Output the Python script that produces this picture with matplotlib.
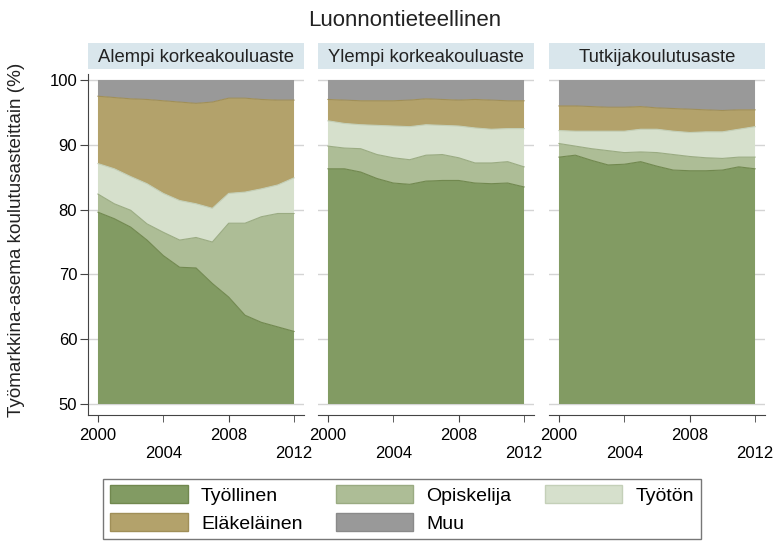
import matplotlib
matplotlib.use("Agg")
import matplotlib.pyplot as plt
from matplotlib.patches import Patch

plt.rcParams['font.family'] = ['Liberation Sans', 'DejaVu Sans']

years = list(range(2000, 2013))
panels = ['Alempi korkeakouluaste', 'Ylempi korkeakouluaste', 'Tutkijakoulutusaste']
categories = ['Työllinen', 'Opiskelija', 'Työtön', 'Eläkeläinen', 'Muu']
colors = ['#829b63', '#adbd96', '#d6e0cc', '#b3a26b', '#999999']
edges = ['#71884f', '#9aab82', '#c4d0b8', '#a08f58', '#8a8a8a']

# cumulative tops of each category (%), per panel
alempi = {
    'Työllinen': [79.6, 78.6, 77.3, 75.3, 72.9, 71.1, 71.0, 68.6, 66.5, 63.7, 62.6, 61.9, 61.2],
    'Opiskelija': [82.4, 80.9, 79.9, 77.8, 76.5, 75.3, 75.7, 75.0, 77.9, 77.9, 78.9, 79.4, 79.4],
    'Työtön': [87.1, 86.3, 85.1, 84.0, 82.5, 81.4, 80.9, 80.2, 82.5, 82.7, 83.2, 83.8, 84.9],
    'Eläkeläinen': [97.5, 97.3, 97.1, 97.0, 96.8, 96.6, 96.4, 96.6, 97.2, 97.2, 97.0, 96.9, 96.9],
    'Muu': [100] * 13,
}
ylempi = {
    'Työllinen': [86.3, 86.3, 85.8, 84.8, 84.1, 83.9, 84.4, 84.5, 84.5, 84.1, 84.0, 84.1, 83.5],
    'Opiskelija': [89.8, 89.5, 89.4, 88.5, 88.0, 87.7, 88.4, 88.5, 88.0, 87.2, 87.2, 87.4, 86.6],
    'Työtön': [93.7, 93.3, 93.1, 93.0, 92.9, 92.8, 93.1, 93.0, 92.9, 92.6, 92.4, 92.5, 92.5],
    'Eläkeläinen': [97.0, 96.9, 96.8, 96.8, 96.8, 96.9, 97.1, 97.0, 96.9, 97.0, 96.9, 96.8, 96.8],
    'Muu': [100] * 13,
}
tutkija = {
    'Työllinen': [88.1, 88.4, 87.6, 86.9, 87.0, 87.4, 86.7, 86.1, 86.0, 86.0, 86.1, 86.6, 86.3],
    'Opiskelija': [90.2, 89.8, 89.4, 89.1, 88.8, 88.9, 88.8, 88.5, 88.2, 88.0, 87.9, 88.1, 88.1],
    'Työtön': [92.2, 92.1, 92.1, 92.1, 92.1, 92.4, 92.4, 92.1, 91.9, 92.0, 92.0, 92.4, 92.8],
    'Eläkeläinen': [96.0, 96.0, 95.9, 95.8, 95.8, 95.9, 95.7, 95.6, 95.5, 95.4, 95.3, 95.4, 95.4],
    'Muu': [100] * 13,
}
data = [alempi, ylempi, tutkija]

W, H = 776, 542
fig = plt.figure(figsize=(W / 100, H / 100), dpi=100)

lefts = [88, 318, 549]
for i, (name, d) in enumerate(zip(panels, data)):
    ax = fig.add_axes([lefts[i] / W, (H - 415) / H, 216 / W, 341 / H])
    for g in range(50, 101, 10):
        ax.axhline(g, color='#d4d4d4', lw=1, zorder=0)
    base = [50] * len(years)
    for cat, c, e in zip(categories, colors, edges):
        ax.fill_between(years, base, d[cat], facecolor=c, edgecolor='none', zorder=2)
        if cat != 'Muu':
            ax.plot(years, d[cat], color=e, lw=0.8, zorder=3)
        base = d[cat]
    ax.set_xlim(1999.39, 2012.61)
    ax.set_ylim(48.3, 100.93)
    ax.set_facecolor('none')
    for s in ['top', 'right']:
        ax.spines[s].set_visible(False)
    ax.spines['bottom'].set_color('#444444')
    ax.spines['left'].set_color('#444444')
    ax.set_xticks([2000, 2008])
    ax.set_xticks([2004, 2012], minor=True)
    ax.set_xticklabels(['2000', '2008'])
    ax.set_xticklabels(['2004', '2012'], minor=True)
    ax.tick_params(axis='x', which='major', length=5, pad=4.5, labelsize=12, color='#444444')
    ax.tick_params(axis='x', which='minor', length=5, pad=17.5, labelsize=12, color='#444444')
    if i == 0:
        ax.set_yticks(range(50, 101, 10))
        ax.tick_params(axis='y', length=5.8, pad=2, labelsize=12, color='#444444')
    else:
        ax.spines['left'].set_visible(False)
        ax.set_yticks([])

    strip = fig.add_axes([lefts[i] / W, (H - 69) / H, 216 / W, 26 / H])
    strip.set_facecolor('#d9e6ec')
    strip.set_xticks([])
    strip.set_yticks([])
    for s in strip.spines.values():
        s.set_visible(False)
    strip.text(0.5, 0.45, name, ha='center', va='center', fontsize=13.3, color='#222222')

fig.text(405 / W, 1 - 20 / H, 'Luonnontieteellinen', ha='center', va='center', fontsize=16, color='#222222')
fig.text(17 / W, 1 - 240 / H, 'Työmarkkina-asema koulutusasteittain (%)', rotation=90,
         ha='center', va='center', fontsize=13.6, color='#222222')

order = [0, 3, 1, 4, 2]
handles = [Patch(facecolor=colors[k], edgecolor=edges[k], label=categories[k]) for k in order]
leg = fig.legend(handles=handles, ncol=3, loc='center', bbox_to_anchor=(402 / W, 1 - 509 / H),
                 fontsize=14, frameon=True, fancybox=False, edgecolor='#555555',
                 handlelength=4.0, handleheight=1.05, handletextpad=0.67, columnspacing=1.7,
                 labelspacing=0.4, borderpad=0.35)
leg.get_frame().set_linewidth(1.0)

fig.savefig('out.png', dpi=100)
